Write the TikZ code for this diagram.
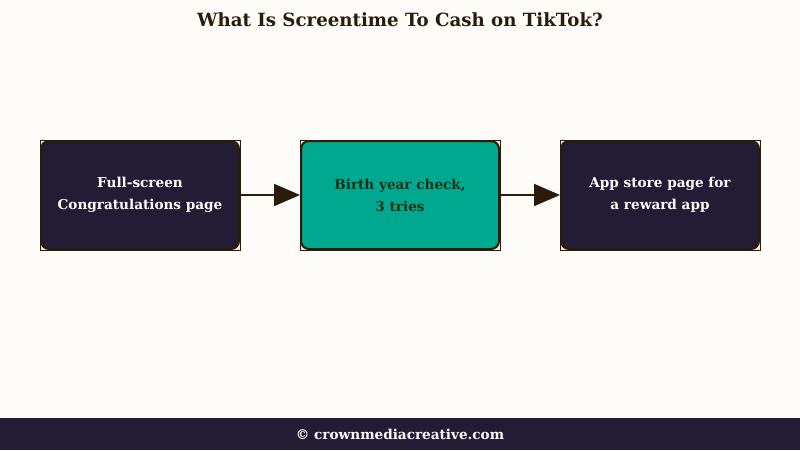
\documentclass[tikz,border=0pt]{standalone}
\usepackage{fontspec}
\setmainfont{DejaVu Serif}
\usepackage{xcolor}
\definecolor{fondo}{RGB}{253, 252, 248}
\definecolor{tinta}{RGB}{43, 27, 10}
\definecolor{marino}{RGB}{35, 28, 53}
\definecolor{turquesa}{RGB}{0, 168, 143}
\definecolor{crema}{RGB}{243, 232, 204}
\definecolor{verdeosc}{RGB}{26, 48, 22}
\usetikzlibrary{positioning, arrows.meta}
\pgfdeclarelayer{capafondo}
\pgfsetlayers{capafondo,main}
\tikzset{
  caja/.style={draw=tinta, line width=2pt, rounded corners=8pt, minimum width=198pt,
    minimum height=108pt, align=center, font=\bfseries\fontsize{13.6}{22}\selectfont,
    inner sep=0pt},
  oscura/.style={caja, fill=marino, text=white},
  clara/.style={caja, fill=turquesa, text=verdeosc},
  flecha/.style={draw=tinta, line width=2pt, -{Triangle[length=26pt, width=22pt]}},
  marco/.style={draw=tinta, line width=1pt, fill=crema}
}

\begin{document}
\begin{tikzpicture}[x=1pt, y=-1pt, node distance=60pt]
  % Fondo y pie
  \begin{pgfonlayer}{capafondo}
    \fill[fondo] (0,0) rectangle (800,450);
    \fill[marino] (0,418) rectangle (800,450);
  \end{pgfonlayer}
  \useasboundingbox (0,0) rectangle (800,450);

  % Titulo
  \node[text=tinta, font=\bfseries\fontsize{18.2}{20}\selectfont] (titulo) at (400,20)
    {What Is Screentime To Cash on TikTok?};

  % Cajas
  \node[oscura] (pantalla) at (140,195) {Full-screen\\Congratulations page};
  \node[clara, right=of pantalla] (edad) {Birth year check,\\3 tries};
  \node[oscura, right=of edad] (tienda) {App store page for\\a reward app};

  % Esquinas
  \begin{pgfonlayer}{capafondo}
    \foreach \c in {pantalla, edad, tienda}
      \draw[marco] (\c.north west) rectangle (\c.south east);
  \end{pgfonlayer}

  % Flechas
  \draw[flecha] (pantalla) -- (edad);
  \draw[flecha] (edad) -- (tienda);

  % Pie
  \node[text=white, font=\bfseries\fontsize{13.6}{15}\selectfont] (pie) at (400,434)
    {© crownmediacreative.com};
\end{tikzpicture}
\end{document}
